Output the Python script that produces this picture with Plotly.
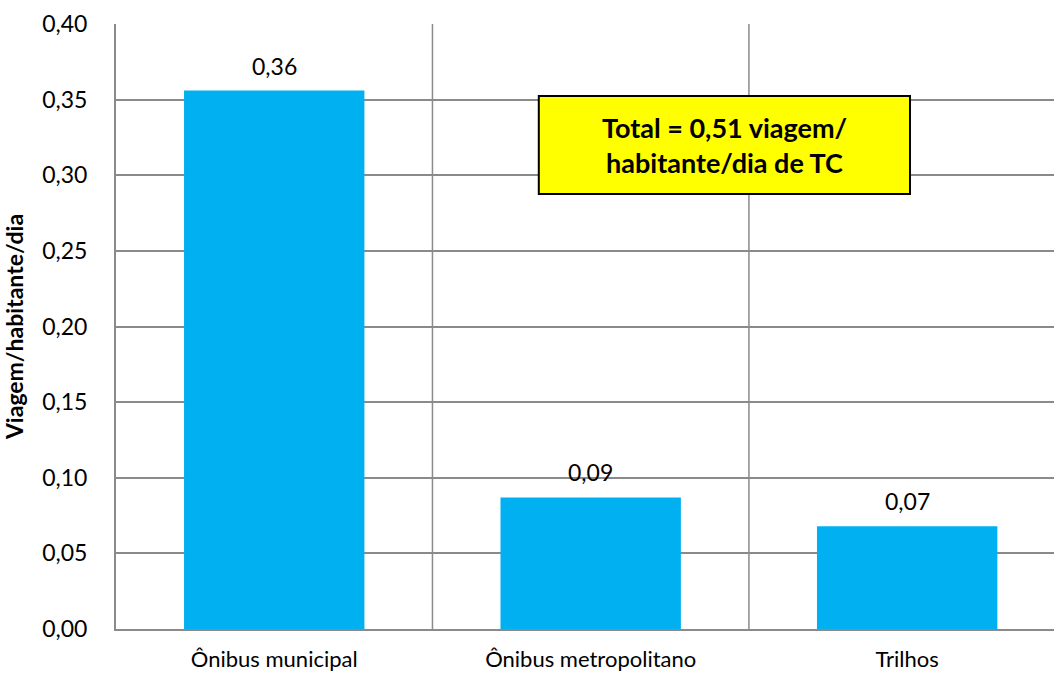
import plotly.graph_objects as go

# Viagens por habitante por dia, por modo de transporte coletivo
categorias = ["Ônibus municipal", "Ônibus metropolitano", "Trilhos"]
viagens = [0.356, 0.087, 0.068]
rotulos = [f"{v:.2f}".replace(".", ",") for v in viagens]
total_texto = "Total = 0,51 viagem/<br>habitante/dia de TC"

FONTE = "Lato, 'Open Sans', sans-serif"
CINZA = "#8a8a8a"

posicoes = list(range(len(categorias)))

fig = go.Figure(
    go.Bar(
        x=posicoes,
        y=viagens,
        width=0.57,
        marker=dict(color="#00B0F0", line=dict(width=0)),
        hoverinfo="skip",
    )
)

# rótulos de valor acima das barras
for xp, v, r in zip(posicoes, viagens, rotulos):
    fig.add_annotation(x=xp, y=v, xref="x", yref="y", text=r,
                       showarrow=False, yanchor="bottom", yshift=9,
                       font=dict(family=FONTE, size=23, color="#000"))

# linhas verticais separando as categorias
for xv in [0.5, 1.5]:
    fig.add_shape(type="line", x0=xv, x1=xv, y0=0, y1=0.40, xref="x", yref="y",
                  line=dict(color=CINZA, width=1.5), layer="below")

# caixa com o total
fig.add_shape(type="rect", x0=0.836, x1=2.009, y0=0.2876, y1=0.3524,
              xref="x", yref="y", fillcolor="#FFFF00",
              line=dict(color="#000", width=2), layer="above")
fig.add_annotation(x=(0.836 + 2.009) / 2, y=(0.2876 + 0.3524) / 2,
                   xref="x", yref="y", text=f"<b>{total_texto}</b>",
                   showarrow=False, align="center",
                   font=dict(family=FONTE, size=27, color="#000"))

fig.update_layout(
    width=1054, height=675,
    margin=dict(l=116, r=0, t=24, b=46),
    paper_bgcolor="white", plot_bgcolor="white",
    separators=",.",
    showlegend=False,
    font=dict(family=FONTE, color="#000"),
    xaxis=dict(
        range=[-0.5, 2.464],
        tickvals=posicoes, ticktext=categorias,
        showgrid=False, zeroline=False,
        showline=True, linecolor=CINZA, linewidth=2,
        ticks="", ticklabelstandoff=10, automargin=False,
        tickfont=dict(family=FONTE, size=22, color="#000"),
    ),
    yaxis=dict(
        range=[0, 0.4],
        dtick=0.05, tickformat=".2f",
        showgrid=True, gridcolor=CINZA, gridwidth=1.5,
        zeroline=False, automargin=False,
        showline=True, linecolor=CINZA, linewidth=2,
        ticks="", ticklabelstandoff=22,
        tickfont=dict(family=FONTE, size=23, color="#000"),
        title=dict(text="<b>Viagem/habitante/dia</b>", standoff=14,
                   font=dict(family=FONTE, size=23, color="#000")),
    ),
)

fig.write_html("out.html")
